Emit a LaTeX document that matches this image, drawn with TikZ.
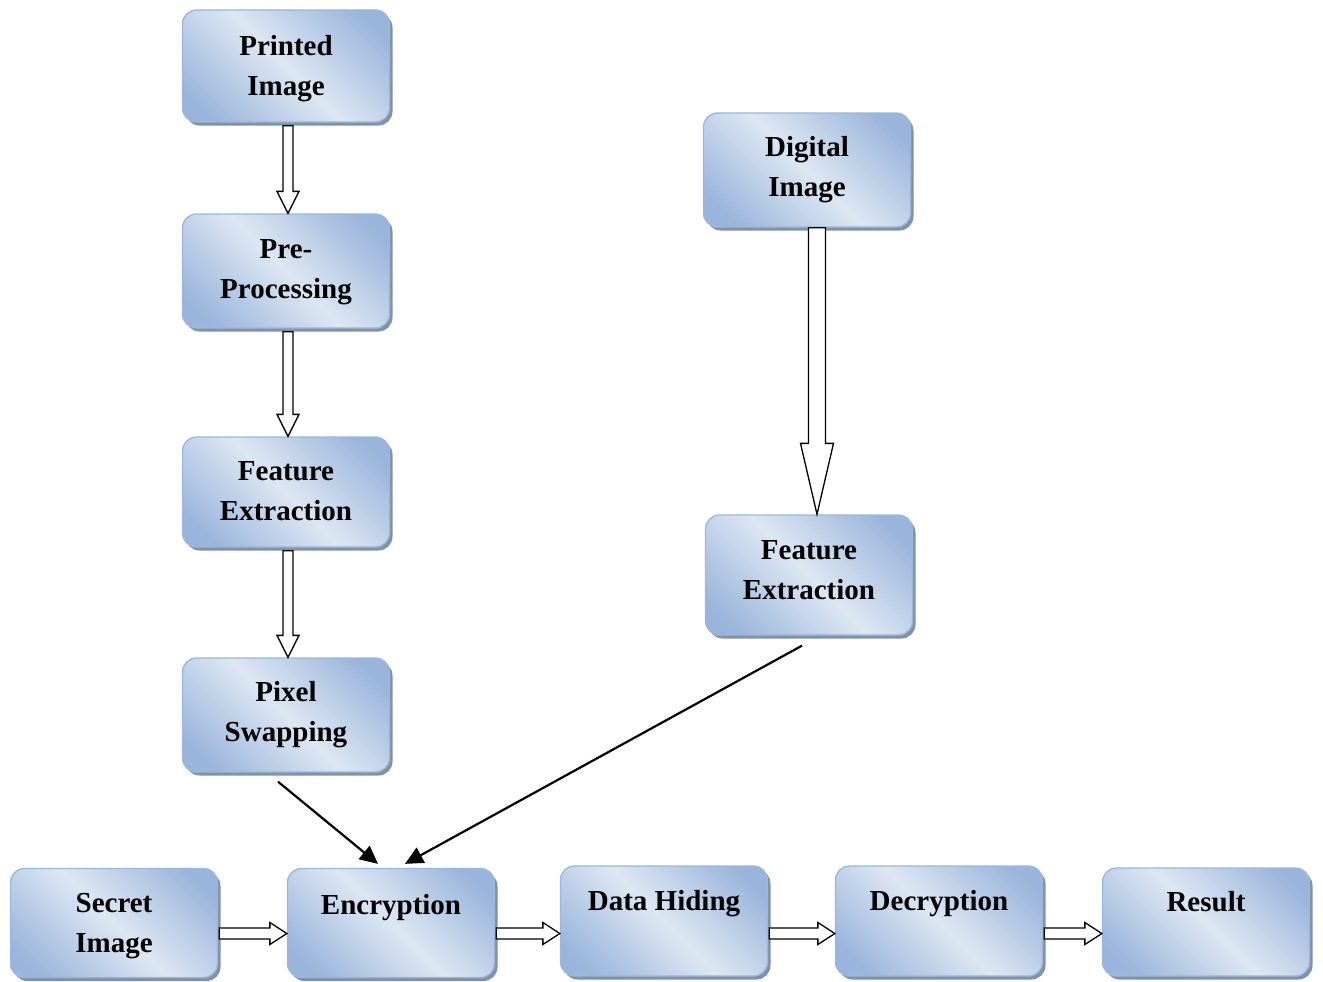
\documentclass[tikz,border=0pt]{standalone}
\usepackage{fontspec}
\setmainfont{Liberation Serif}
\usetikzlibrary{calc,arrows.meta,shadows}
\definecolor{bdark}{HTML}{9AB5DB}
\definecolor{blight}{HTML}{DDE7F3}
\definecolor{bedge}{HTML}{9AB7DD}
\definecolor{bshadow}{HTML}{8391A8}
\pgfdeclarehorizontalshading{boxshade}{100bp}{color(0bp)=(bdark); color(22bp)=(bdark); color(50bp)=(blight); color(78bp)=(bdark); color(100bp)=(bdark)}
% hollow block arrows: start, end, shaft half width, head half width, head length
\newcommand\blockdown[5]{%
  \draw[blockarrow] let \p1=#1, \p2=#2 in
    (\x1-#3,\y1) -- (\x1-#3,\y2+#5) -- (\x1-#4,\y2+#5) -- (\x1,\y2)
    -- (\x1+#4,\y2+#5) -- (\x1+#3,\y2+#5) -- (\x1+#3,\y1) -- cycle;}
\newcommand\blockright[5]{%
  \draw[blockarrow] let \p1=#1, \p2=#2 in
    (\x1,\y1-#3) -- (\x2-#5,\y1-#3) -- (\x2-#5,\y1-#4) -- (\x2,\y1)
    -- (\x2-#5,\y1+#4) -- (\x2-#5,\y1+#3) -- (\x1,\y1+#3) -- cycle;}
% a shaded box (name, centre, height) with its caption (vertical offset, text)
\newcommand\stagebox[5]{%
  \node[box, minimum height=#3] (#1) at #2 {};
  \node[caption] (#1-text) at ($(#1.center)+(0,#4)$) {#5};}
\begin{document}
\begin{tikzpicture}[x=1pt,y=-1pt,
  box/.style={rounded corners=14pt, draw=bedge, line width=1.3pt,
    shading=boxshade, shading angle=45, minimum width=207pt, inner sep=0pt,
    drop shadow={shadow xshift=3pt, shadow yshift=-3.5pt, fill=bshadow, opacity=1}},
  caption/.style={align=center, inner sep=0pt, font=\bfseries\fontsize{29}{40}\selectfont},
  blockarrow/.style={draw=black, fill=white, line width=1.3pt, line join=miter},
  thinarrow/.style={draw=black, line width=2.2pt, -{Triangle[length=18pt,width=17pt]}}]
\useasboundingbox (0,0) rectangle (1323,982);

% left column
\stagebox{pimg}{(286,66)}{112pt}{3}{Printed\\Image}
\stagebox{prep}{(286,271)}{114pt}{1.5}{Pre-\\Processing}
\stagebox{fea}{(286,492)}{110pt}{-1}{Feature\\Extraction}
\stagebox{pix}{(286,715)}{114pt}{0}{Pixel\\Swapping}

% right column
\stagebox{dimg}{(807,170)}{114pt}{0}{Digital\\Image}
\stagebox{feb}{(809,575)}{120pt}{-5}{Feature\\Extraction}

% bottom row
\stagebox{sec}{(114,923)}{109pt}{3}{Secret\\Image}
\stagebox{enc}{(391,923)}{109pt}{7}{Encryption\\\strut}
\stagebox{dh}{(664,921)}{110pt}{5}{Data Hiding\\\strut}
\stagebox{dec}{(939,921)}{110pt}{5}{Decryption\\\strut}
\stagebox{res}{(1206,922)}{108pt}{5}{Result\\\strut}

% vertical block arrows
\blockdown{($(pimg.south)+(2,3)$)}{(prep.north -| {$(pimg.south)+(2,0)$})}{5pt}{11pt}{22pt}
\blockdown{($(prep.south)+(2,3)$)}{(fea.north -| {$(prep.south)+(2,0)$})}{5pt}{11pt}{22pt}
\blockdown{($(fea.south)+(2,3)$)}{(pix.north -| {$(fea.south)+(2,0)$})}{5pt}{11pt}{22pt}
\blockdown{($(dimg.south)+(10,0)$)}{(feb.north -| {$(dimg.south)+(10,0)$})}{8.5pt}{16.5pt}{71pt}

% horizontal block arrows
\blockright{($(sec.east)+(1,10.5)$)}{(enc.west |- {$(sec.east)+(0,10.5)$})}{5.5pt}{11pt}{17pt}
\blockright{($(enc.east)+(1,10.5)$)}{(dh.west |- {$(enc.east)+(0,10.5)$})}{5.5pt}{11pt}{17pt}
\blockright{($(dh.east)+(1,12.5)$)}{(dec.west |- {$(dh.east)+(0,12.5)$})}{5.5pt}{11pt}{17pt}
\blockright{($(dec.east)+(1,12.5)$)}{(res.west |- {$(dec.east)+(0,12.5)$})}{5.5pt}{11pt}{17pt}

% merging arrows into encryption
\coordinate (pixout) at ($(pix.south)+(-8,9)$);
\coordinate (febout) at ($(feb.south)+(-7,10)$);
\draw[thinarrow] (pixout) -- ($(enc.north)+(-13,-4)$);
\draw[thinarrow] (febout) -- ($(enc.north)+(14,-4)$);
\end{tikzpicture}
\end{document}
